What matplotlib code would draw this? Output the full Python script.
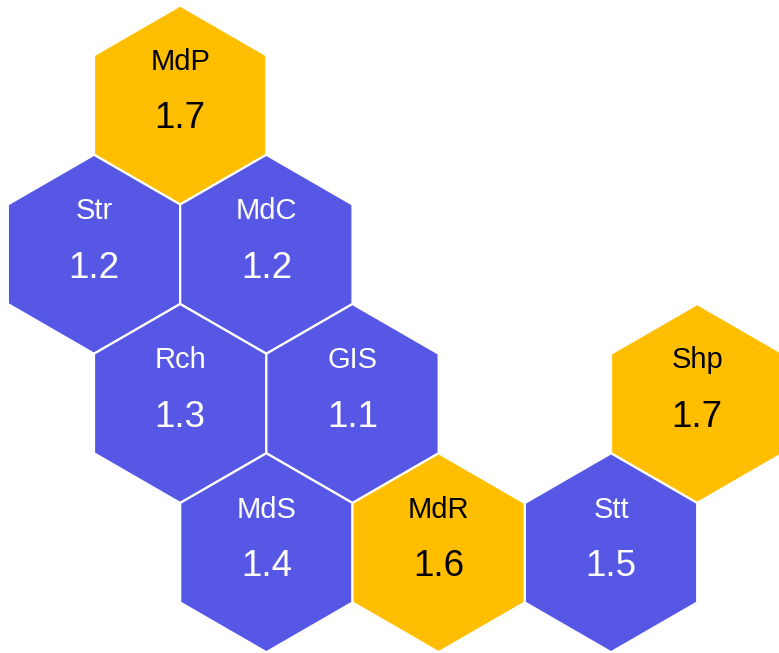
"""Hexagon tile map of scores."""

import matplotlib.pyplot as plt
import numpy as np
from matplotlib.patches import RegularPolygon

plt.rcParams["font.family"] = ["Liberation Sans", "DejaVu Sans"]

labels = ["MdP", "Str", "MdC", "Rch", "GIS", "Shp", "MdS", "MdR", "Stt"]
values = [1.7, 1.2, 1.2, 1.3, 1.1, 1.7, 1.4, 1.6, 1.5]
# grid slots: row, and column in half-hex steps
rows = [0, 1, 1, 2, 2, 2, 3, 3, 3]
cols = [1, 0, 2, 1, 3, 7, 2, 4, 6]

BLUE = "#5757E6"
YELLOW = "#FFBF00"
THRESHOLD = 1.6

radius = 99.5
x0, y0 = 94, 105

fig = plt.figure(figsize=(7.79, 6.53), dpi=100)
ax = fig.add_axes([0, 0, 1, 1])
ax.set_xlim(0, 779)
ax.set_ylim(653, 0)
ax.set_aspect("equal")
ax.axis("off")

for label, value, row, col in zip(labels, values, rows, cols):
    cx = x0 + col * np.sqrt(3) * radius / 2
    cy = y0 + row * 1.5 * radius
    high = value >= THRESHOLD
    ax.add_patch(
        RegularPolygon(
            (cx, cy), numVertices=6, radius=radius,
            facecolor=YELLOW if high else BLUE, edgecolor="white", linewidth=1.6,
        )
    )
    color = "black" if high else "white"
    ax.text(cx, cy - 43, label, ha="center", va="center", fontsize=21, color=color)
    ax.text(cx, cy + 14, f"{value:.1f}", ha="center", va="center", fontsize=26.5, color=color)

fig.savefig("out.png", dpi=100)
